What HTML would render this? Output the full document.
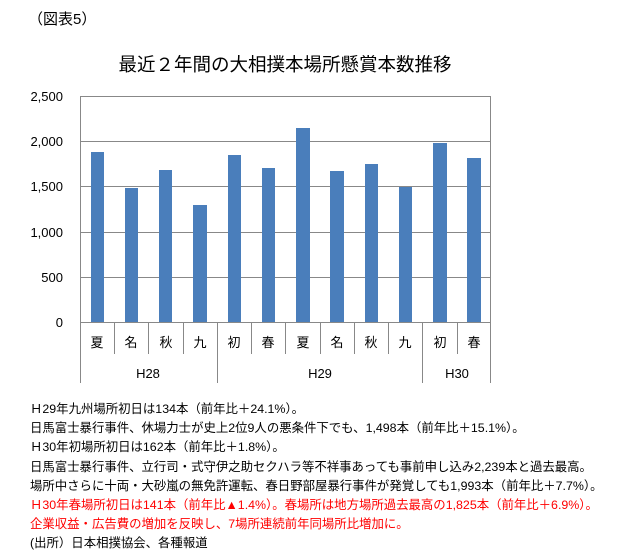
<!DOCTYPE html>
<html><head><meta charset="utf-8"><style>
body{margin:0;background:#fff;width:619px;height:558px;overflow:hidden;font-family:"Liberation Sans","Noto Sans CJK JP",sans-serif;}
.t{position:absolute;left:30px;font-size:12.4px;color:#000;white-space:nowrap;line-height:14px}
.r{color:#ff0000}
</style></head><body>
<svg width="619" height="558" style="position:absolute;left:0;top:0" font-family="Liberation Sans, Noto Sans CJK JP, sans-serif">
<text x="28" y="24" font-size="15">（図表5）</text>
<text x="285" y="71" font-size="18.5" text-anchor="middle">最近２年間の大相撲本場所懸賞本数推移</text>
<g stroke="#888" stroke-width="1">
<line x1="80" y1="96.5" x2="491" y2="96.5"/>
<line x1="80" y1="141.5" x2="491" y2="141.5"/>
<line x1="80" y1="186.5" x2="491" y2="186.5"/>
<line x1="80" y1="232.5" x2="491" y2="232.5"/>
<line x1="80" y1="277.5" x2="491" y2="277.5"/>
<line x1="80" y1="322.5" x2="491" y2="322.5"/>
<line x1="80.5" y1="96" x2="80.5" y2="383"/>
<line x1="490.5" y1="96" x2="490.5" y2="383"/>
<line x1="114.5" y1="322" x2="114.5" y2="354"/>
<line x1="148.5" y1="322" x2="148.5" y2="354"/>
<line x1="183.5" y1="322" x2="183.5" y2="354"/>
<line x1="217.5" y1="322" x2="217.5" y2="383"/>
<line x1="251.5" y1="322" x2="251.5" y2="354"/>
<line x1="285.5" y1="322" x2="285.5" y2="354"/>
<line x1="320.5" y1="322" x2="320.5" y2="354"/>
<line x1="354.5" y1="322" x2="354.5" y2="354"/>
<line x1="388.5" y1="322" x2="388.5" y2="354"/>
<line x1="422.5" y1="322" x2="422.5" y2="383"/>
<line x1="457.5" y1="322" x2="457.5" y2="354"/>
</g>
<g fill="#4a7ebb">
<rect x="91" y="152" width="13" height="170"/>
<rect x="125" y="188" width="13" height="134"/>
<rect x="159" y="170" width="13" height="152"/>
<rect x="193" y="205" width="14" height="117"/>
<rect x="228" y="155" width="13" height="167"/>
<rect x="262" y="168" width="13" height="154"/>
<rect x="296" y="128" width="14" height="194"/>
<rect x="330" y="171" width="14" height="151"/>
<rect x="365" y="164" width="13" height="158"/>
<rect x="399" y="187" width="13" height="135"/>
<rect x="433" y="143" width="14" height="179"/>
<rect x="467" y="158" width="14" height="164"/>
</g>
<g font-size="13" text-anchor="end">
<text x="63" y="101">2,500</text><text x="63" y="146">2,000</text><text x="63" y="191">1,500</text>
<text x="63" y="237">1,000</text><text x="63" y="282">500</text><text x="63" y="327">0</text>
</g>
<g font-size="13" text-anchor="middle">
<text x="97" y="347">夏</text><text x="131" y="347">名</text><text x="166" y="347">秋</text><text x="200" y="347">九</text>
<text x="234" y="347">初</text><text x="268" y="347">春</text><text x="303" y="347">夏</text><text x="337" y="347">名</text>
<text x="371" y="347">秋</text><text x="405" y="347">九</text><text x="440" y="347">初</text><text x="474" y="347">春</text>
<text x="148" y="378">H28</text><text x="320" y="378">H29</text><text x="457" y="378">H30</text>
</g>
</svg>
<div class="t" style="top:402px">Ｈ29年九州場所初日は134本（前年比＋24.1%）。</div>
<div class="t" style="top:421px">日馬富士暴行事件、休場力士が史上2位9人の悪条件下でも、1,498本（前年比＋15.1%）。</div>
<div class="t" style="top:440px">Ｈ30年初場所初日は162本（前年比＋1.8%）。</div>
<div class="t" style="top:460px">日馬富士暴行事件、立行司・式守伊之助セクハラ等不祥事あっても事前申し込み2,239本と過去最高。</div>
<div class="t" style="top:479px">場所中さらに十両・大砂嵐の無免許運転、春日野部屋暴行事件が発覚しても1,993本（前年比＋7.7%）。</div>
<div class="t r" style="top:498px">Ｈ30年春場所初日は141本（前年比▲1.4%）。春場所は地方場所過去最高の1,825本（前年比＋6.9%）。</div>
<div class="t r" style="top:517px">企業収益・広告費の増加を反映し、7場所連続前年同場所比増加に。</div>
<div class="t" style="top:536px">(出所）日本相撲協会、各種報道</div>
</body></html>
